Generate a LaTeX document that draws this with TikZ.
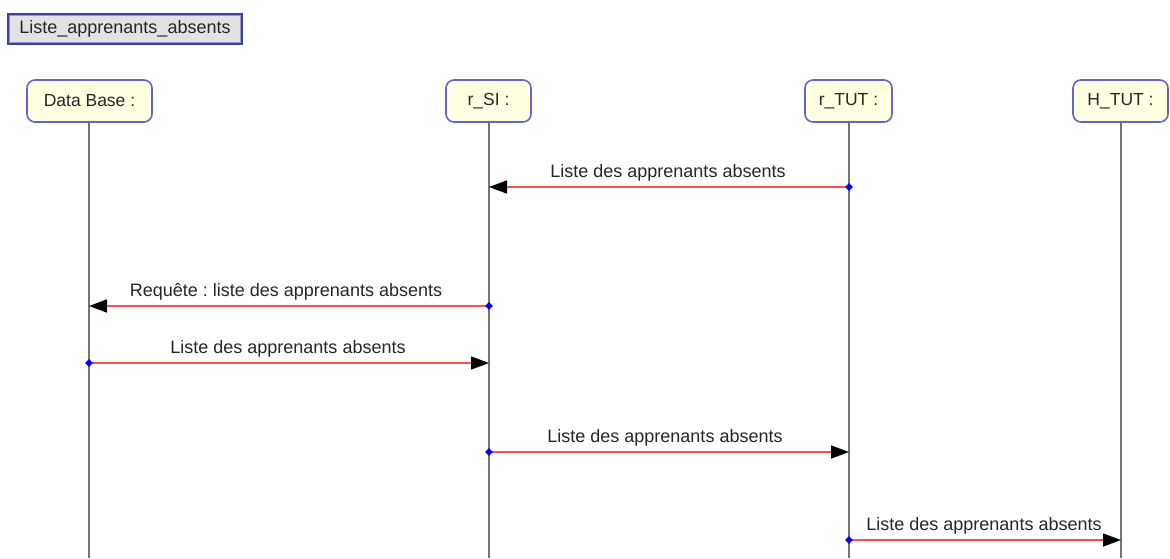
\documentclass[tikz,border=0pt]{standalone}
\usepackage{fontspec}
\setmainfont{Liberation Sans}
\frenchspacing
\usetikzlibrary{arrows.meta,calc,shapes.geometric}
\definecolor{headfill}{HTML}{FFFFE2}
\definecolor{headdraw}{HTML}{6464CC}
\definecolor{titlefill}{HTML}{E2E2E2}
\definecolor{titledraw}{HTML}{4040A0}
\definecolor{msgred}{HTML}{FF5050}
\definecolor{lifegray}{HTML}{747474}
\tikzset{
  x=1pt, y=-1pt,
  headbox/.style={draw=headdraw, line width=1.6pt, fill=headfill, rounded corners=8pt,
    minimum height=42pt, inner xsep=10pt, font=\fontsize{17.5}{20}\selectfont, text=black!85},
  lifeline/.style={draw=lifegray, line width=1.6pt},
  msg/.style={draw=msgred, line width=1.4pt, -{Triangle[length=18pt,width=13pt,color=black]}},
  msglabel/.style={font=\fontsize{18}{20}\selectfont, text=black!85, inner sep=0pt},
  srcdot/.style={diamond, fill=blue, inner sep=0pt, minimum size=8pt},
}
\begin{document}
\begin{tikzpicture}
\useasboundingbox (0,0) rectangle (1170,558);
% title
\node[draw=titledraw, line width=2.2pt, fill=titlefill,
  minimum width=234pt, minimum height=30pt, font=\fontsize{18}{20}\selectfont, text=black!85, inner sep=0pt] (title) at (125,29) {Liste\_apprenants\_absents};
\draw[titledraw!55, line width=1pt] ($(title.south west)+(3,-3)$) rectangle ($(title.north east)+(-3,3)$);
% heads
\node[headbox, minimum width=125pt] (db) at (89.5,101) {Data Base :};
\node[headbox, minimum width=85pt] (si) at (488.5,101) {r\_SI :};
\node[headbox, minimum width=87pt] (tut) at (848.5,101) {r\_TUT :};
\node[headbox, minimum width=95pt] (htut) at (1120.5,101) {H\_TUT :};
% lifelines
\coordinate (dbE) at (89,558);
\coordinate (siE) at (489,558);
\coordinate (tutE) at (849,558);
\coordinate (htutE) at (1121,558);
\draw[lifeline] (db.south -| dbE) -- (dbE);
\draw[lifeline] (si.south -| siE) -- (siE);
\draw[lifeline] (tut.south -| tutE) -- (tutE);
\draw[lifeline] (htut.south -| htutE) -- (htutE);
% message points
\coordinate (m1s) at (849,187); \coordinate (m1e) at (489,187);
\coordinate (m2s) at (489,306); \coordinate (m2e) at (89,306);
\coordinate (m3s) at (89,363);  \coordinate (m3e) at (489,363);
\coordinate (m4s) at (489,452); \coordinate (m4e) at (849,452);
\coordinate (m5s) at (849,540); \coordinate (m5e) at (1121,540);
\draw[msg] (m1s) -- (m1e);
\draw[msg] (m2s) -- (m2e);
\draw[msg] (m3s) -- (m3e);
\draw[msg] (m4s) -- (m4e);
\draw[msg] (m5s) -- (m5e);
\node[srcdot] (d1) at (m1s) {};
\node[srcdot] (d2) at (m2s) {};
\node[srcdot] (d3) at (m3s) {};
\node[srcdot] (d4) at (m4s) {};
\node[srcdot] (d5) at (m5s) {};
\node[msglabel] (l1) at (668,173) {Liste des apprenants absents};
\node[msglabel] (l2) at (286,292) {Requête : liste des apprenants absents};
\node[msglabel] (l3) at (288,349) {Liste des apprenants absents};
\node[msglabel] (l4) at (665,438) {Liste des apprenants absents};
\node[msglabel] (l5) at (984,526) {Liste des apprenants absents};
\end{tikzpicture}
\end{document}
